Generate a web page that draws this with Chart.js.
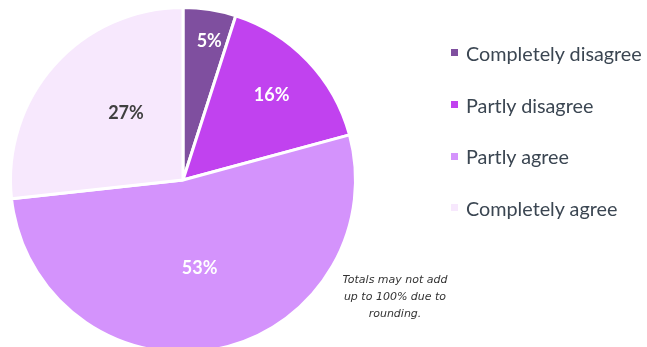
<!DOCTYPE html>
<html>
<head>
<meta charset="utf-8">
<script src="https://cdn.jsdelivr.net/npm/chart.js@4"></script>
<style>
    html, body { margin: 0; padding: 0; background: #fff; overflow: hidden; }
    body { width: 647px; height: 347px; position: relative; }
    #wrap { position: absolute; left: 0; top: 0; width: 647px; height: 360px; }
    #legend { position: absolute; left: 451px; top: 27px; font-family: Lato, "Open Sans", sans-serif; font-size: 19.8px; color: #3b4652; }
    #legend .item { display: flex; align-items: center; height: 51.7px; }
    #legend .box { width: 7px; height: 7px; margin-right: 8px; }
    #note { position: absolute; left: 338px; top: 271px; width: 114px; text-align: center; font-family: "DejaVu Sans", sans-serif; font-style: italic; font-size: 11px; line-height: 17px; color: #333; }
</style>
</head>
<body>
<div id="wrap"><canvas id="pieChart"></canvas></div>
<div id="legend"></div>
<div id="note">Totals may not add up to 100% due to rounding.</div>

<script>
// --- data ---
const categories = ["Completely disagree", "Partly disagree", "Partly agree", "Completely agree"];
const shares = [5, 16, 53, 27];
const colors = ["#7f4f9f", "#c142ef", "#d493fc", "#f7e8fd"];
const labelColors = ["#ffffff", "#ffffff", "#ffffff", "#404040"];

// where each % label sits: fraction of radius, fraction along the slice
const labelRadius = [0.82, 0.71, 0.52, 0.51];
const labelSweep = [0.6, 0.5, 0.5, 0.58];

// --- legend (html) ---
const legend = document.getElementById("legend");
legend.innerHTML = categories.map((c, i) => `
    <div class="item"><span class="box" style="background:${colors[i]}"></span>${c}</div>
`).join('');

// --- percent labels on the slices ---
const sliceLabels = {
    id: "sliceLabels",
    afterDatasetsDraw(chart) {
        const ctx = chart.ctx;
        const meta = chart.getDatasetMeta(0);
        ctx.save();
        ctx.font = "bold 18px Lato, 'Open Sans', sans-serif";
        ctx.textAlign = "center";
        ctx.textBaseline = "middle";
        meta.data.forEach((arc, i) => {
            const p = arc.getProps(["x", "y", "startAngle", "endAngle", "outerRadius"], true);
            const a = p.startAngle + (p.endAngle - p.startAngle) * labelSweep[i];
            const r = p.outerRadius * labelRadius[i];
            ctx.fillStyle = labelColors[i];
            ctx.fillText(shares[i] + "%", p.x + Math.cos(a) * r, p.y + Math.sin(a) * r);
        });
        ctx.restore();
    }
};

const ctx = document.getElementById("pieChart").getContext("2d");
new Chart(ctx, {
    type: "pie",
    data: {
        labels: categories,
        datasets: [{
            data: shares,
            backgroundColor: colors,
            borderColor: "#ffffff",
            borderWidth: 3
        }]
    },
    options: {
        responsive: true,
        maintainAspectRatio: false,
        animation: false,
        layout: { padding: { left: 9, right: 290, top: 6, bottom: 6 } },
        plugins: {
            legend: { display: false },
            tooltip: { enabled: false }
        }
    },
    plugins: [sliceLabels]
});
</script>
</body>
</html>
